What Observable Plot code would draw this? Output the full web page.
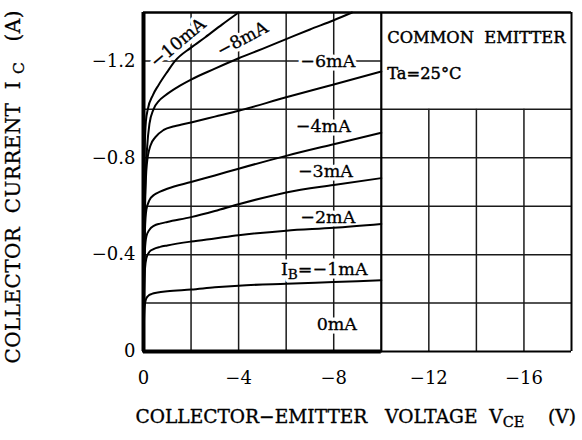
<!DOCTYPE html>
<html>
<head>
<meta charset="utf-8">
<script src="https://cdn.jsdelivr.net/npm/d3@7"></script>
<script src="https://cdn.jsdelivr.net/npm/@observablehq/plot@0.6"></script>
<style>
html, body { margin: 0; padding: 0; background: #fff; }
</style>
</head>
<body>
<div id="chart"></div>
<script>
// ---- axes / grid values ----
const xTicks = [0, -4, -8, -12, -16];
const yTicks = [0, -0.4, -0.8, -1.2];
const xGridFull = [-2, -4, -6, -8];
const xGridRight = [-12, -14, -16];
const yGridLeft = [-0.2, -0.4, -0.6, -0.8, -1.0, -1.2];
const yGridRight = [-0.2, -0.4, -0.6, -0.8, -1.0];

// ---- characteristic curves: [V_CE (V), I_C (A)] ----
const curveIb10 = [[0,0],[-0.02,-0.55],[-0.05,-0.83],[-0.1,-0.95],[-0.18,-1.0],[-0.4,-1.06],[-0.63,-1.1],[-1.0,-1.155],[-1.33,-1.2],[-2.0,-1.255],[-2.6,-1.298],[-3.3,-1.35],[-4.0,-1.40]];
const curveIb8 = [[0,0],[-0.03,-0.45],[-0.08,-0.7],[-0.15,-0.84],[-0.25,-0.94],[-0.42,-1.0],[-0.65,-1.035],[-0.91,-1.057],[-1.4,-1.09],[-2.0,-1.123],[-3.0,-1.168],[-4.0,-1.211],[-5.0,-1.25],[-6.0,-1.29],[-7.0,-1.33],[-8.0,-1.368],[-8.77,-1.40]];
const curveIb6 = [[0,0],[-0.03,-0.4],[-0.07,-0.62],[-0.14,-0.774],[-0.29,-0.85],[-0.5,-0.885],[-0.85,-0.915],[-1.3,-0.93],[-2.0,-0.946],[-3.0,-0.97],[-4.0,-0.994],[-6.0,-1.05],[-8.0,-1.103],[-10,-1.156]];
const curveIb4 = [[0,0],[-0.03,-0.35],[-0.06,-0.5],[-0.12,-0.585],[-0.25,-0.625],[-0.45,-0.647],[-0.7,-0.66],[-1.0,-0.672],[-2.0,-0.70],[-3.0,-0.727],[-4.0,-0.755],[-6.0,-0.808],[-8.0,-0.856],[-10,-0.903]];
const curveIb3 = [[0,0],[-0.03,-0.3],[-0.06,-0.42],[-0.12,-0.475],[-0.25,-0.503],[-0.45,-0.52],[-0.7,-0.528],[-1.0,-0.535],[-2.0,-0.555],[-3.0,-0.58],[-4.0,-0.608],[-6.0,-0.657],[-8.0,-0.688],[-10,-0.716]];
const curveIb2 = [[0,0],[-0.03,-0.25],[-0.06,-0.34],[-0.12,-0.385],[-0.25,-0.412],[-0.42,-0.423],[-0.7,-0.432],[-1.0,-0.438],[-2.0,-0.454],[-3.0,-0.467],[-4.0,-0.48],[-6.0,-0.499],[-8.0,-0.511],[-10,-0.527]];
const curveIb1 = [[0,0],[-0.02,-0.12],[-0.05,-0.185],[-0.1,-0.215],[-0.2,-0.23],[-0.35,-0.238],[-0.6,-0.244],[-1.0,-0.249],[-2.0,-0.256],[-3.0,-0.265],[-4.0,-0.272],[-6.0,-0.28],[-8.0,-0.287],[-10,-0.294]];
const curveIb0 = [[0,0],[-10,0]];
const curves = [curveIb10, curveIb8, curveIb6, curveIb4, curveIb3, curveIb2, curveIb1, curveIb0];

// ---- curve labels ----
const labelText = ["−10mA", "−8mA", "−6mA", "−4mA", "−3mA", "−2mA", "I_{B}=−1mA", "0mA"];
const labelVce = [-1.45, -4.16, -7.75, -7.56, -7.65, -7.75, -7.6, -8.13];
const labelIc = [-1.275, -1.29, -1.2, -0.928, -0.742, -0.553, -0.338, -0.111];
const labelAngle = [-40, -28, 0, 0, 0, 0, 0, 0];

// ---- note box ----
const noteText = ["COMMON\u00a0\u00a0EMITTER", "Ta=25°C"];
const noteVce = [-10.25, -10.25];
const noteIc = [-1.295, -1.146];

// ---- titles ----
const xTitle = "COLLECTOR−EMITTER\u00a0\u00a0\u00a0VOLTAGE\u00a0\u00a0V_{CE}\u00a0\u00a0\u00a0\u00a0(V)";
const yTitle = "COLLECTOR\u00a0\u00a0CURRENT\u00a0\u00a0I\u00a0_{C}\u00a0\u00a0\u00a0(A)";

const FONT = "DejaVu Serif";
const fmt = d => d === 0 ? "0" : d3.format("")(d);
const labelIdx = d3.range(labelText.length);
const noteIdx = d3.range(noteText.length);

const gridStyle = {stroke: "#1a1a1a", strokeWidth: 1.5};
const labelPos = {
  x: i => labelVce[i], y: i => labelIc[i], text: i => labelText[i],
  rotate: i => labelAngle[i], fontFamily: FONT, fontSize: 17.5
};

const chart = Plot.plot({
  width: 582,
  height: 440,
  marginLeft: 143,
  marginRight: 11,
  marginTop: 12,
  marginBottom: 89,
  style: {fontFamily: FONT, fontSize: "18px", color: "#000", background: "#fff"},
  x: {domain: [0, -18]},
  y: {domain: [0, -1.4]},
  marks: [
    // grid
    Plot.ruleX(xGridFull, {...gridStyle}),
    Plot.ruleX(xGridRight, {y1: 0, y2: -1.0, ...gridStyle}),
    Plot.ruleY(yGridLeft, {x1: 0, x2: -10, ...gridStyle}),
    Plot.ruleY(yGridRight, {x1: -10, x2: -18, ...gridStyle}),
    // white backing behind curve labels
    Plot.text(labelIdx, {...labelPos, fill: "#fff", stroke: "#fff", strokeWidth: 7, strokeLinejoin: "round"}),
    // curves
    ...curves.map(c => Plot.line(c, {x: d => d[0], y: d => d[1], stroke: "#000", strokeWidth: 2, curve: "monotone-x"})),
    // curve labels
    Plot.text(labelIdx, {...labelPos, fill: "#000", stroke: "#000", strokeWidth: 0.3}),
    // frame
    Plot.ruleX([-10], {stroke: "#000", strokeWidth: 2.2}),
    Plot.ruleX([-18], {stroke: "#000", strokeWidth: 2}),
    Plot.ruleY([-1.4], {stroke: "#000", strokeWidth: 2.6}),
    Plot.ruleY([0], {x1: -10, x2: -18, stroke: "#000", strokeWidth: 1.8}),
    Plot.ruleY([0], {x1: 0, x2: -10, stroke: "#000", strokeWidth: 4}),
    Plot.ruleX([0], {stroke: "#000", strokeWidth: 4}),
    // note
    Plot.text(noteIdx, {
      x: i => noteVce[i], y: i => noteIc[i], text: i => noteText[i],
      textAnchor: "start", fontFamily: FONT, fontSize: 16.3, fill: "#000", stroke: "#000", strokeWidth: 0.45
    }),
    // axes
    Plot.axisX(xTicks, {tickSize: 0, tickPadding: 20, tickFormat: fmt, fontSize: 18, fontFamily: FONT, label: null}),
    Plot.axisY(yTicks, {tickSize: 0, tickPadding: 8, tickFormat: fmt, fontSize: 18, fontFamily: FONT, label: null}),
    // titles
    Plot.text([xTitle], {frameAnchor: "bottom-left", dx: -8, dy: 71, textAnchor: "start", fontSize: 18.6, fontFamily: FONT, fill: "#000", stroke: "#000", strokeWidth: 0.35}),
    Plot.text([yTitle], {frameAnchor: "bottom-left", rotate: -90, dx: -124, dy: 12, textAnchor: "start", fontSize: 20, fontFamily: FONT, fill: "#000", stroke: "#000", strokeWidth: 0.3})
  ]
});

// subscripts: turn "_{..}" into sub tspans
d3.select(chart).selectAll("text").each(function() {
  const s = this.textContent;
  if (!s.includes("_{")) return;
  this.textContent = "";
  for (const p of s.split(/(_\{[^}]*\})/)) {
    if (!p) continue;
    const t = document.createElementNS("http://www.w3.org/2000/svg", "tspan");
    if (p.startsWith("_{")) {
      t.textContent = p.slice(2, -1);
      t.setAttribute("font-size", "78%");
      t.setAttribute("baseline-shift", "-25%");
    } else {
      t.textContent = p;
    }
    this.appendChild(t);
  }
});

// spread the vertical axis title to the reference extent
d3.select(chart).selectAll("text").each(function() {
  if (this.textContent.startsWith("COLLECTOR\u00a0")) {
    this.setAttribute("textLength", 353);
    this.setAttribute("lengthAdjust", "spacing");
  }
});

document.getElementById("chart").appendChild(chart);
</script>
</body>
</html>
